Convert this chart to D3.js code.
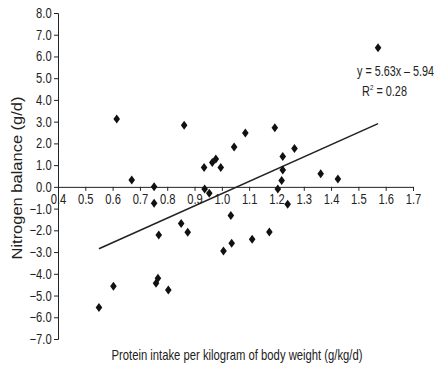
<!DOCTYPE html>
<html>
<head>
<meta charset="utf-8">
<script src="https://cdn.jsdelivr.net/npm/d3@7"></script>
<style>
  body { margin: 0; background: #fff; }
  text { font-family: "Liberation Sans", Arial, sans-serif; fill: #222; }
</style>
</head>
<body>
<svg id="chart" width="436" height="368"></svg>
<script>
// protein intake (g/kg/d) and nitrogen balance (g/d)
var intake = [0.55, 0.603, 0.615, 0.67, 0.752, 0.752, 0.759, 0.766, 0.769, 0.804,
              0.851, 0.862, 0.875, 0.935, 0.937, 0.954, 0.965, 0.978, 0.996, 1.006,
              1.033, 1.036, 1.045, 1.086, 1.111, 1.174, 1.194, 1.205, 1.219, 1.223,
              1.223, 1.241, 1.266, 1.362, 1.425, 1.572];
var balance = [-5.55, -4.57, 3.12, 0.32, 0.01, -0.75, -4.44, -4.21, -2.22, -4.75,
               -1.68, 2.83, -2.09, 0.89, -0.1, -0.29, 1.12, 1.28, 0.89, -2.95,
               -1.32, -2.6, 1.83, 2.48, -2.41, -2.08, 2.72, -0.1, 0.29, 0.78,
               1.4, -0.8, 1.77, 0.6, 0.36, 6.4];
var xTicks = [0.4, 0.5, 0.6, 0.7, 0.8, 0.9, 1.0, 1.1, 1.2, 1.3, 1.4, 1.5, 1.6, 1.7];
var yTicks = [8, 7, 6, 5, 4, 3, 2, 1, 0, -1, -2, -3, -4, -5, -6, -7];
var slope = 5.63, intercept = -5.94, r2 = 0.28;

var svg = d3.select("#chart");
var x = d3.scaleLinear().domain([0.4, 1.7]).range([58, 413]);
var y = d3.scaleLinear().domain([-7, 8]).range([339, 13]);
var fmt = d3.format(".1f");

function styleAxis(g) {
  g.select(".domain").attr("stroke", "#222");
  g.selectAll(".tick line").attr("stroke", "#222");
  g.selectAll(".tick text")
      .attr("font-size", 14)
      .attr("fill", "#222")
      .attr("transform", "scale(0.8,1)");
}

// y axis on the left edge
var yAxis = d3.axisLeft(y).tickValues(yTicks).tickSize(4).tickPadding(4)
    .tickFormat(function(d) { return fmt(d).replace("-", "\u2013"); });
svg.append("g")
    .attr("transform", "translate(" + x(0.4) + ",0)")
    .call(yAxis)
    .call(styleAxis);

// x axis crosses at zero
var xAxis = d3.axisBottom(x).tickValues(xTicks).tickSize(4).tickPadding(3)
    .tickFormat(fmt);
svg.append("g")
    .attr("transform", "translate(0," + y(0) + ")")
    .call(xAxis)
    .call(styleAxis);

// trend line over the data range
var ext = d3.extent(intake);
svg.append("line")
    .attr("x1", x(ext[0])).attr("y1", y(slope * ext[0] + intercept))
    .attr("x2", x(ext[1])).attr("y2", y(slope * ext[1] + intercept))
    .attr("stroke", "#222").attr("stroke-width", 1.6);

// diamonds
var pts = intake.map(function(v, i) { return {x: v, y: balance[i]}; });
svg.selectAll("path.pt")
  .data(pts)
  .enter().append("path")
    .attr("class", "pt")
    .attr("transform", function(d) { return "translate(" + x(d.x) + "," + y(d.y) + ")"; })
    .attr("d", "M0,-4.5L3.3,0L0,4.5L-3.3,0Z")
    .attr("fill", "#111");

// equation
svg.append("text")
    .attr("x", 357).attr("y", 76)
    .attr("font-size", 14)
    .attr("textLength", 77).attr("lengthAdjust", "spacingAndGlyphs")
    .text("y = " + slope + "x \u2013 " + Math.abs(intercept).toFixed(2));
var r = svg.append("text")
    .attr("x", 362).attr("y", 96)
    .attr("font-size", 14)
    .attr("textLength", 45).attr("lengthAdjust", "spacingAndGlyphs");
r.append("tspan").text("R");
r.append("tspan").attr("font-size", 8).attr("dy", -6).text("2");
r.append("tspan").attr("dy", 6).text(" = " + r2.toFixed(2));

// axis titles
svg.append("text")
    .attr("transform", "translate(22,178) rotate(-90)")
    .attr("text-anchor", "middle")
    .attr("font-size", 15)
    .attr("textLength", 163).attr("lengthAdjust", "spacingAndGlyphs")
    .text("Nitrogen balance (g/d)");
svg.append("text")
    .attr("x", 237).attr("y", 360)
    .attr("text-anchor", "middle")
    .attr("font-size", 15)
    .attr("textLength", 251).attr("lengthAdjust", "spacingAndGlyphs")
    .text("Protein intake per kilogram of body weight (g/kg/d)");
</script>
</body>
</html>
